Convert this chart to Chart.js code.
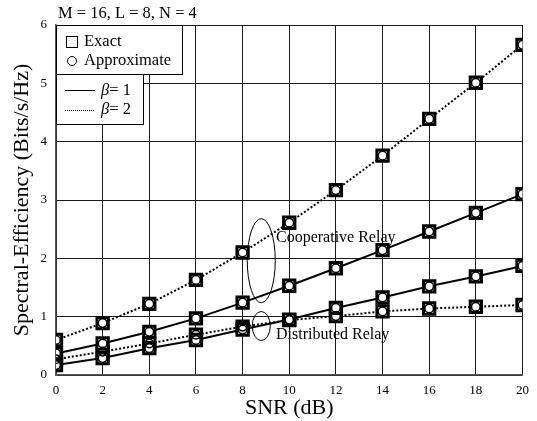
<!DOCTYPE html>
<html>
<head>
<meta charset="utf-8">
<script src="https://cdn.jsdelivr.net/npm/chart.js@4/dist/chart.umd.min.js"></script>
<style>
  html, body { margin: 0; padding: 0; background: #fff; }
  #wrap { width: 537px; height: 421px; position: relative; }
</style>
</head>
<body>
<div id="wrap"><canvas id="c" width="537" height="421"></canvas></div>
<script>
// ---- data ----
const snr = [0, 2, 4, 6, 8, 10, 12, 14, 16, 18, 20];
const xTicks = [0, 2, 4, 6, 8, 10, 12, 14, 16, 18, 20];
const yTicks = [0, 1, 2, 3, 4, 5, 6];

const coopBeta2Exact  = [0.60, 0.89, 1.22, 1.63, 2.10, 2.61, 3.17, 3.76, 4.39, 5.01, 5.66];
const coopBeta2Approx = [0.60, 0.89, 1.22, 1.63, 2.10, 2.61, 3.17, 3.76, 4.39, 5.01, 5.66];
const coopBeta1Exact  = [0.37, 0.54, 0.74, 0.97, 1.24, 1.53, 1.83, 2.14, 2.46, 2.78, 3.10];
const coopBeta1Approx = [0.37, 0.54, 0.74, 0.97, 1.24, 1.53, 1.83, 2.14, 2.46, 2.78, 3.10];
const distBeta1Exact  = [0.17, 0.29, 0.46, 0.60, 0.78, 0.95, 1.15, 1.33, 1.52, 1.69, 1.87];
const distBeta1Approx = [0.17, 0.29, 0.46, 0.60, 0.78, 0.95, 1.15, 1.33, 1.52, 1.69, 1.87];
const distBeta2Exact  = [0.27, 0.40, 0.54, 0.69, 0.83, 0.94, 1.01, 1.09, 1.14, 1.17, 1.20];
const distBeta2Approx = [0.27, 0.40, 0.54, 0.69, 0.83, 0.94, 1.01, 1.09, 1.14, 1.17, 1.20];

const titleText = 'M = 16, L = 8, N = 4';
const xTitle = 'SNR (dB)';
const yTitle = 'Spectral-Efficiency (Bits/s/Hz)';
const legendMarkers = ['Exact', 'Approximate'];
const legendLines = ['1', '2'];
const annoCoop = 'Cooperative Relay';
const annoDist = 'Distributed Relay';

const FONT = '"Liberation Serif", "DejaVu Serif", serif';
const pts = arr => snr.map((x, i) => ({ x: x, y: arr[i] }));

function exactSet(arr, dotted) {
  return {
    data: pts(arr), borderColor: '#000', borderWidth: 2, borderDash: dotted ? [2, 2] : [],
    pointStyle: 'rect', pointRadius: 8, pointBorderWidth: 3, pointBorderColor: '#000',
    pointBackgroundColor: '#fff', fill: false, tension: 0, order: 2
  };
}
function approxSet(arr) {
  return {
    data: pts(arr), showLine: false, borderColor: '#000',
    pointStyle: 'circle', pointRadius: 4.3, pointBorderWidth: 1.5, pointBorderColor: '#000',
    pointBackgroundColor: 'rgba(255,255,255,0)', order: 1
  };
}

const overlay = {
  id: 'overlay',
  afterDraw(chart) {
    const ctx = chart.ctx;
    const xs = chart.scales.x, ys = chart.scales.y;
    ctx.save();
    // title
    ctx.fillStyle = '#000';
    ctx.font = '16.5px ' + FONT;
    ctx.textBaseline = 'middle';
    ctx.textAlign = 'left';
    ctx.fillText(titleText, 58, 14);

    // annotations (ellipses + labels)
    ctx.strokeStyle = '#000';
    ctx.lineWidth = 1;
    ctx.beginPath();
    ctx.ellipse(xs.getPixelForValue(8.8), ys.getPixelForValue(1.96), 14, 42, 0, 0, Math.PI * 2);
    ctx.stroke();
    ctx.beginPath();
    ctx.ellipse(xs.getPixelForValue(8.8), ys.getPixelForValue(0.84), 9, 14.5, 0, 0, Math.PI * 2);
    ctx.stroke();
    ctx.font = '16px ' + FONT;
    ctx.fillText(annoCoop, 276, 238);
    ctx.fillText(annoDist, 276, 335);

    // legend box 1
    ctx.fillStyle = '#fff';
    ctx.fillRect(56.5, 25.5, 126, 49);
    ctx.strokeRect(56.5, 25.5, 126, 49);
    // legend box 2
    ctx.fillRect(56.5, 74.5, 87, 50);
    ctx.strokeRect(56.5, 74.5, 87, 50);

    ctx.fillStyle = '#000';
    ctx.font = '16.5px ' + FONT;
    // square marker
    ctx.lineWidth = 1;
    ctx.strokeRect(66.5, 36.5, 11, 11);
    ctx.fillText(legendMarkers[0], 84, 42);
    ctx.beginPath();
    ctx.arc(72, 61, 4.5, 0, Math.PI * 2);
    ctx.stroke();
    ctx.fillText(legendMarkers[1], 84, 61);

    // line samples
    ctx.beginPath();
    ctx.moveTo(65, 90.5); ctx.lineTo(95, 90.5);
    ctx.stroke();
    ctx.setLineDash([1, 1]);
    ctx.beginPath();
    ctx.moveTo(65, 110.5); ctx.lineTo(95, 110.5);
    ctx.stroke();
    ctx.setLineDash([]);
    for (let i = 0; i < 2; i++) {
      const yy = i === 0 ? 91 : 110;
      ctx.font = 'italic 16.5px ' + FONT;
      ctx.fillText('\u03B2', 101, yy);
      const w = ctx.measureText('\u03B2').width;
      ctx.font = '16.5px ' + FONT;
      ctx.fillText('= ' + legendLines[i], 101 + w, yy);
    }
    ctx.restore();
  }
};

new Chart(document.getElementById('c'), {
  type: 'line',
  data: {
    datasets: [
      exactSet(coopBeta2Exact, true), approxSet(coopBeta2Approx),
      exactSet(coopBeta1Exact, false), approxSet(coopBeta1Approx),
      exactSet(distBeta1Exact, false), approxSet(distBeta1Approx),
      exactSet(distBeta2Exact, true), approxSet(distBeta2Approx)
    ]
  },
  options: {
    responsive: false,
    animation: false,
    layout: { padding: { left: 0, right: 14, top: 25, bottom: 0 } },
    plugins: { legend: { display: false }, tooltip: { enabled: false } },
    scales: {
      x: {
        type: 'linear', min: 0, max: 20,
        afterBuildTicks: s => { s.ticks = xTicks.map(v => ({ value: v })); },
        afterFit: s => { s.height = 46; },
        grid: { color: '#1a1a1a', lineWidth: 1, drawTicks: false },
        border: { color: '#555', width: 1.5 },
        ticks: { color: '#000', font: { family: FONT, size: 13 }, padding: 8, maxRotation: 0 },
        title: { display: true, text: xTitle, color: '#000', font: { family: FONT, size: 22 }, padding: { top: 0, bottom: 0 } }
      },
      y: {
        type: 'linear', min: 0, max: 6,
        afterBuildTicks: s => { s.ticks = yTicks.map(v => ({ value: v })); },
        afterFit: s => { s.width = 56; },
        grid: { color: '#1a1a1a', lineWidth: 1, drawTicks: false },
        border: { color: '#555', width: 1.5 },
        ticks: { color: '#000', font: { family: FONT, size: 13 }, padding: 9 },
        title: { display: true, text: yTitle, color: '#000', font: { family: FONT, size: 22 }, padding: { top: 9, bottom: 0 } }
      }
    }
  },
  plugins: [overlay]
});
</script>
</body>
</html>
